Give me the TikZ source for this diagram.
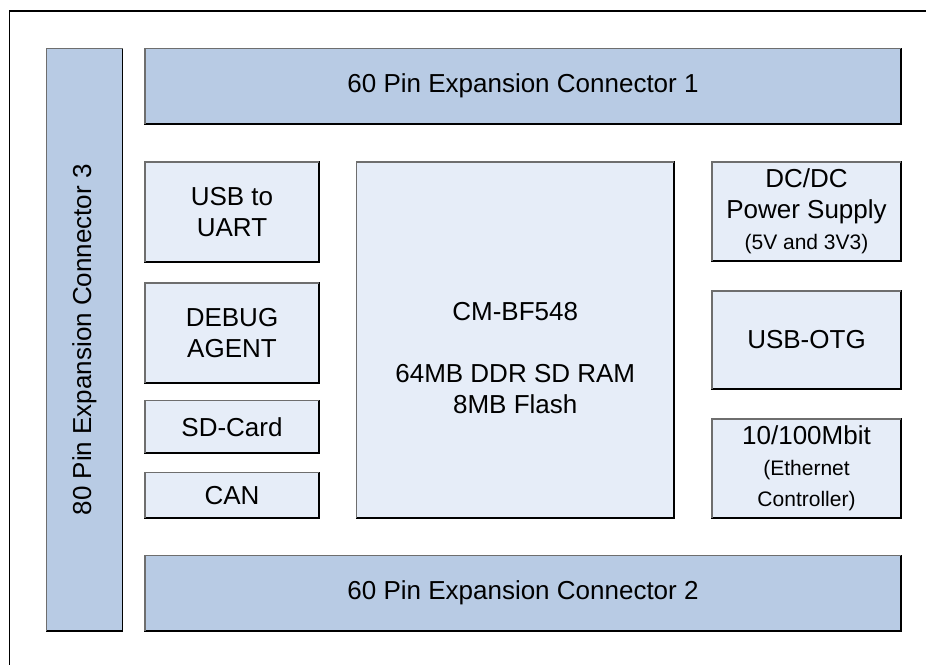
\documentclass[tikz,border=0pt]{standalone}
\usepackage{fontspec}
\setmainfont{Liberation Sans}
\definecolor{connfill}{HTML}{B8CBE4}
\definecolor{blkfill}{HTML}{E6EDF8}
\definecolor{edgegray}{HTML}{6E6E6E}
\tikzset{
  board/.style={draw=black, line width=1.2pt, inner sep=0pt, outer sep=0pt},
  conn/.style={board, fill=connfill},
  blk/.style={board, fill=blkfill},
  lbl/.style={align=center, inner sep=0pt, font=\fontsize{26}{31}\selectfont},
  hilite/.style={draw=edgegray, line width=1.2pt}
}
\newcommand{\smalltxt}{\fontsize{21}{29}\selectfont}
\begin{document}
\begin{tikzpicture}[x=1pt,y=1pt,yscale=-1]
\useasboundingbox (0,0) rectangle (926,664);

%Frame
\draw[line width=1.6pt] (9.5,11) rectangle (960,700);

%Connectors
\node[conn, minimum width=76pt, minimum height=582.5pt] (conn3) at (84.5,339.75) {};
\node[conn, minimum width=756pt, minimum height=75.5pt] (conn1) at (523,86.25) {};
\node[conn, minimum width=756pt, minimum height=75.5pt] (conn2) at (523,593.25) {};

%Blocks left
\node[blk, minimum width=174pt, minimum height=100pt] (uart) at (232,212) {};
\node[blk, minimum width=174pt, minimum height=100pt] (debug) at (232,333) {};
\node[blk, minimum width=174pt, minimum height=52.5pt] (sdcard) at (232,426.75) {};
\node[blk, minimum width=174pt, minimum height=45.5pt] (can) at (232,495.25) {};

%Module
\node[blk, minimum width=317.5pt, minimum height=356pt] (cpu) at (515.25,340) {};

%Blocks right
\node[blk, minimum width=189pt, minimum height=99pt] (dcdc) at (806.5,211.5) {};
\node[blk, minimum width=189pt, minimum height=98pt] (otg) at (806.5,340) {};
\node[blk, minimum width=189pt, minimum height=99pt] (eth) at (806.5,468.5) {};

%Gray top and left edges
\foreach \b in {conn3,conn1,conn2,uart,debug,sdcard,can,cpu,dcdc,otg,eth}
  \draw[hilite] (\b.south west) |- (\b.north east);

% Text Nodes
\node[lbl, rotate=90] (conn3txt) at (conn3.center) {80 Pin Expansion Connector 3};
\node[lbl] (conn1txt) at (conn1.center) {60 Pin Expansion Connector 1};
\node[lbl] (conn2txt) at (conn2.center) {60 Pin Expansion Connector 2};
\node[lbl] (uarttxt) at (uart.center) {USB to\\UART};
\node[lbl] (debugtxt) at (debug.center) {DEBUG\\AGENT};
\node[lbl] (sdtxt) at (sdcard.center) {SD-Card};
\node[lbl] (cantxt) at (can.center) {CAN};
\node[lbl] (cputxt) at (515.25,358) {CM-BF548\\[31pt]64MB DDR SD RAM\\8MB Flash};
\node[lbl] (dcdctxt) at (dcdc.center) {DC/DC\\Power Supply\\{\smalltxt (5V and 3V3)}};
\node[lbl] (otgtxt) at (otg.center) {USB-OTG};
\node[lbl] (ethtxt) at (eth.center) {10/100Mbit\\{\smalltxt (Ethernet}\\{\smalltxt Controller)}};

\end{tikzpicture}
\end{document}
